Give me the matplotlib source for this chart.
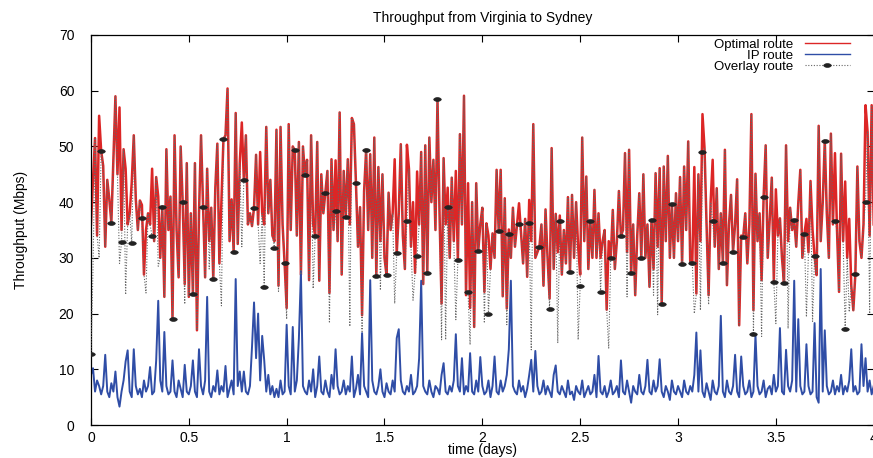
import matplotlib
matplotlib.use('Agg')
import matplotlib.pyplot as plt
from matplotlib.markers import MarkerStyle
from matplotlib.transforms import Affine2D
import numpy as np

plt.rcParams['font.family'] = ['Liberation Sans', 'DejaVu Sans']

# samples every 15 minutes (1/96 day), overlay markers every 5th sample
samples_per_day = 96
marker_every = 5

optimal = [
    # 0
    36, 44, 51.5, 34, 55.5, 49.2, 46.5, 32, 44, 40.5, 36.3, 47.5, 59, 45, 57, 35, 49.5, 46, 36, 38, 43.5, 52, 40.5, 35, 40.3,
    # 25
    39.5, 27, 35, 38, 36, 46, 33, 44.5, 41, 30, 39.2, 23, 49.5, 35, 41, 19.1, 52, 35, 26.5, 50, 40, 25.3, 47, 23, 38,
    # 50
    23.6, 47, 17, 38, 52, 39.2, 26.5, 46, 33, 39, 26.2, 42.5, 50.5, 29, 40, 51.3, 52, 60.4, 33, 40.5, 31, 56, 32.5, 47, 54.3,
    # 75
    44, 52, 36, 38, 35.7, 39, 48.5, 36, 49, 38, 36, 53.5, 38, 44, 34, 33, 53, 25, 53.5, 36, 29, 21, 54, 35, 50,
    # 100
    49.3, 34, 50.8, 27, 50, 44.8, 47.6, 26, 52, 36, 34, 50.8, 25.9, 45, 38, 41.7, 45.6, 23.7, 47.7, 35, 47.5, 33, 56.1, 27, 45.6,
    # 125
    37.3, 47.7, 36, 55.1, 54, 43.4, 32, 39.1, 19.7, 42, 49.4, 35, 48.6, 30, 51.6, 26.8, 46.3, 33, 45, 30, 26.9, 41.7, 35, 38, 47.7,
    # 150
    30.8, 38, 50.4, 34, 28, 50.3, 46, 32, 40, 27.3, 45.5, 36, 49, 25.3, 50.2, 27.2, 51.6, 40, 47.6, 35, 58.5, 38, 21.8, 47.9, 36,
    # 175
    42.6, 30, 44.4, 33, 45.6, 29.6, 52.2, 36, 59.1, 23.3, 43.4, 21, 40, 17.6, 43.4, 31.2, 36, 39, 23.9, 36.2, 34, 28, 34.4, 30, 45.8,
    # 200
    35, 45.8, 23.1, 40.7, 20.9, 35.1, 30, 39, 32, 36, 39.8, 34.4, 29, 37, 26.6, 40.4, 33, 54, 30, 31, 32, 36, 25, 38.7, 30,
    # 225
    22.7, 49.7, 28, 37.9, 31, 37.6, 27, 35, 29, 40.9, 27.5, 41.3, 30, 40, 32, 27, 51.6, 33, 44.6, 28, 36.6, 30, 42.2, 30, 38,
    # 250
    30, 33, 35, 20.7, 33, 30, 38.6, 28, 33, 42, 33.9, 35, 48.8, 31, 49.4, 27.2, 36, 23.3, 34, 41.6, 30, 45, 30, 36, 24.8,
    # 275
    36.8, 28, 45.2, 32, 46.1, 21.7, 46.4, 33, 48.3, 30, 39.6, 30, 41.6, 33, 44.5, 28.9, 46.4, 35, 50.9, 29, 29, 46.3, 23.6, 45, 33,
    # 300
    55.8, 49.7, 36, 23.3, 40, 47.6, 32, 42.5, 28, 38, 29.1, 49.4, 25.1, 36, 41.3, 31.1, 36, 44.1, 17.9, 34, 33.8, 38, 29, 36, 55.8,
    # 325
    20.6, 45.1, 33, 38, 26, 41, 50.2, 30, 37, 44.4, 26, 42.3, 34, 37.1, 30, 25.5, 50.2, 33, 39, 35, 36.8, 32, 39.8, 45.8, 30,
    # 350
    34.3, 37, 31, 43.8, 35, 30.3, 26.9, 53.7, 33, 40, 51, 38, 30, 52.3, 36, 48.8, 35, 23.9, 48.7, 33, 43.7, 30, 37, 25, 20.6,
    # 375
    27.1, 46.4, 33, 30, 36, 57.4, 52.6, 34, 57.4, 36,
]

ip_route = [
    # 0
    9, 10.2, 6, 8, 7, 5.5, 7, 12.6, 6, 5, 7.5, 6, 9.6, 5, 3.3, 6, 8, 11.4, 13.4, 6, 5, 13.6, 7, 5.5, 6.5,
    # 25
    5, 8, 6, 7, 10.4, 5.5, 6, 11.6, 22.3, 8, 6, 16.7, 7, 5.5, 6, 11.6, 6, 5, 8, 6.5, 5, 10.8, 6, 5.5, 7,
    # 50
    11.6, 6, 5, 13.6, 7, 5.5, 8, 23, 6, 5, 7, 6, 9.8, 5.5, 7, 6, 10.6, 5, 6.5, 8, 5.5, 26.2, 7, 9.6, 6,
    # 75
    9.6, 6, 5.5, 7, 14, 22, 12, 20, 8, 16, 11.6, 6, 9, 5.5, 7, 5, 6.5, 5, 8, 5.5, 6, 18, 7, 5.5, 17.6,
    # 100
    6, 8, 15.5, 27.5, 7, 6, 5.5, 8, 6, 10, 5, 7, 12.3, 6, 5.5, 8, 6, 5, 9, 6.5, 13.6, 7, 5.5, 6, 8,
    # 125
    5.5, 7, 6, 12.3, 5, 6.5, 9, 5.5, 16.5, 7, 6, 5, 26, 8, 6, 5.5, 7, 10, 6, 5, 7.5, 6, 5.5, 8, 6,
    # 150
    15.6, 17.2, 8, 6, 5.5, 7, 6, 9, 5.5, 6, 7, 12, 25.9, 7, 6, 5.5, 8, 6, 5, 7, 6.5, 5.5, 9, 11.1, 6,
    # 175
    5.5, 7, 6, 8, 16.3, 7, 6, 12, 5.5, 7, 6, 12.9, 6, 5.5, 8, 6, 12.2, 7, 5.5, 6, 8, 5, 7, 12.3, 6,
    # 200
    5.5, 8, 6, 7, 9, 13.6, 25.9, 7, 6, 5.5, 8, 6, 7, 5, 6.5, 9, 11.7, 6, 13.3, 7, 5.5, 6, 8, 5.5, 7,
    # 225
    6, 5, 9, 10.7, 6, 5.5, 7, 6, 5, 8, 5.5, 6, 4.5, 7, 6, 5.5, 8, 5, 6, 7, 5.5, 6, 9, 5, 12.4,
    # 250
    6, 5.5, 7, 5, 6, 8, 5.5, 6, 7, 5, 11.6, 6, 5.5, 8, 6, 4, 7, 6, 5.5, 9, 6, 5.5, 7, 11.7, 6,
    # 275
    5.5, 8, 6, 7, 11.8, 6, 5, 7, 6, 4.5, 8, 6, 5.5, 7, 6, 5, 8, 6, 5.5, 7, 6, 9, 16.6, 6, 13.4,
    # 300
    6, 5, 7.5, 6, 4.5, 8, 6, 5.5, 7, 19.6, 6, 5, 8, 6, 5.5, 7, 12.6, 6, 5, 12.3, 7, 5.5, 6, 8, 5,
    # 325
    6, 16.2, 7, 5.5, 6, 8, 5, 6.5, 7, 5.5, 9, 6, 7, 17.4, 6, 5.5, 13.5, 7, 6, 8, 25.9, 6, 19, 7, 5.5,
    # 350
    6, 14.5, 7, 5.5, 6, 18.3, 5, 4, 28, 6, 17, 7, 5.5, 6, 8, 5.5, 7, 6, 9, 5.5, 7, 6, 8, 13.6, 6,
    # 375
    7, 5.5, 6, 14.5, 7, 12, 6, 8, 5.5, 7,
]

# overlay value at every 5th sample (the black dots)
overlay_marked = [
    12.8, 49.2, 36.3, 32.9, 32.6, 37.2, 33.9, 39.2, 19.1, 40.0,
    23.6, 39.2, 26.2, 51.3, 31.0, 43.9, 39.0, 24.8, 31.7, 29.0,
    49.3, 44.8, 34.0, 41.7, 38.4, 37.3, 43.4, 49.4, 26.8, 26.9,
    30.8, 36.7, 30.3, 27.2, 58.5, 39.2, 29.6, 23.8, 31.2, 19.9,
    34.9, 34.3, 36.0, 36.2, 32.0, 20.8, 36.6, 27.5, 25.0, 36.6,
    23.9, 30.0, 33.9, 27.2, 29.9, 36.8, 21.7, 39.6, 28.9, 29.0,
    49.0, 36.6, 29.1, 31.1, 33.8, 16.3, 41.0, 25.7, 25.5, 36.8,
    34.3, 30.3, 51.0, 36.6, 17.2, 27.1, 40.0,
]

# other samples where the overlay route falls below the optimal route
overlay_drops = {
    1: 28, 4: 30, 14: 29, 17: 23.4, 27: 23.7, 33: 28.5, 46: 21.7, 58: 28, 64: 21.4,
    74: 32, 83: 29, 92: 24, 96: 19, 109: 24.5, 117: 18.3, 127: 17.7, 133: 16.8,
    142: 24.2, 149: 21.8, 158: 22.4, 172: 15.3, 174: 15.3, 179: 18.9, 186: 14.4,
    193: 18.3, 204: 18, 216: 13.5, 229: 14.7, 239: 15.3, 254: 13.8, 263: 23,
    276: 23.3, 278: 19.8, 296: 20, 299: 20.6, 303: 21.6, 329: 15.9, 336: 18.2,
    342: 17.3, 351: 19.4, 354: 18.6, 372: 20.3, 382: 20,
}

x = np.arange(len(optimal)) / samples_per_day
overlay = np.array(optimal, dtype=float)
for i, v in overlay_drops.items():
    overlay[i] = v
overlay[::marker_every] = overlay_marked[:len(overlay[::marker_every])]

fig = plt.figure(figsize=(8.73, 4.58), dpi=100)
ax = fig.add_axes([0.1042, 0.072, 0.8966, 0.8516])

# flat black dot like the gnuplot point
dot = MarkerStyle('o', transform=Affine2D().scale(1.5, 0.75))

ax.plot(x, optimal, color='#dc2626', lw=1.8, label='Optimal route', zorder=2)
ax.plot(x, ip_route, color='#2f4da6', lw=1.4, label='IP route', zorder=2)
ax.plot(x, overlay, color='#666666', lw=0.8, ls=(0, (1, 1.5)),
        marker=dot, markevery=marker_every, ms=3.6,
        mfc='#222222', mec='#222222', mew=0.5, label='Overlay route', zorder=3)

fs = 10
ax.set_xlim(0, 4)
ax.set_ylim(0, 70)
ax.set_xticks(np.arange(0, 4.01, 0.5))
ax.set_xticklabels(['0', '0.5', '1', '1.5', '2', '2.5', '3', '3.5', '4'])
ax.set_yticks(range(0, 71, 10))
ax.tick_params(direction='in', length=5, width=0.8, top=True, right=True,
               labelsize=fs)
ax.tick_params(axis='x', pad=4)
ax.tick_params(axis='y', pad=12)
for s in ax.spines.values():
    s.set_linewidth(0.9)

ax.set_title('Throughput from Virginia to Sydney', fontsize=fs, pad=9)
ax.set_xlabel('time (days)', fontsize=fs, labelpad=-1)
ax.set_ylabel('Throughput (Mbps)', fontsize=fs, labelpad=22)

leg = ax.legend(loc='upper right', bbox_to_anchor=(0.976, 1.004), frameon=False,
                markerfirst=False, fontsize=9.5, handlelength=3.4,
                labelspacing=-0.1, borderaxespad=0.0, handletextpad=0.9)
for t in leg.get_texts():
    t.set_ha('right')
for h in leg.get_lines()[:2]:
    h.set_linewidth(1.0)

fig.savefig('out.png', dpi=100)
